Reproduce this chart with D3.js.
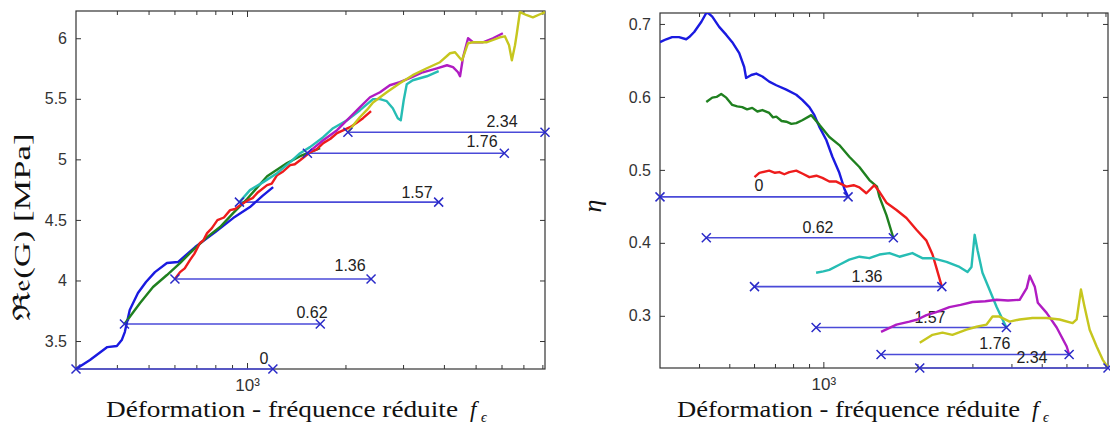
<!DOCTYPE html>
<html><head><meta charset="utf-8">
<script src="https://cdn.jsdelivr.net/npm/d3@7"></script>
<style>body{margin:0;background:#fff}svg{display:block}</style>
</head><body><svg id="c" width="1110" height="427"></svg>
<script>
// ---------- data ----------
const strains = ["0", "0.62", "1.36", "1.57", "1.76", "2.34"];
const fStart = [300, 422, 602, 948, 1530, 2035];
const fEnd = [1200, 1675, 2395, 3855, 6120, 8150];
const gLevel = [3.269, 3.64, 4.012, 4.647, 5.051, 5.224];
const etaLevel = [0.463, 0.407, 0.34, 0.284, 0.247, 0.2285];
const gLabelF = [1127, 1580, 2066, 3309, 5230, 6021];
const gLabelV = [3.36, 3.739, 4.127, 4.729, 5.15, 5.315];
const etaLabelF = [622, 961, 1379, 2194, 3542, 4653];
const etaLabelV = [0.4795, 0.4219, 0.3548, 0.2986, 0.263, 0.2438];

const gTicks = [3.5, 4, 4.5, 5, 5.5, 6];
const etaTicks = [0.3, 0.4, 0.5, 0.6, 0.7];
const xMajor = [1000];
const xMajorLabels = ["10³"];
const xMinor = [400, 500, 600, 700, 800, 900, 2000, 3000, 4000, 5000, 6000, 7000, 8000];
const xDomain = [300, 8150];
const gDomain = [3.269, 6.225];
const etaDomain = [0.2285, 0.715];

const gCurve0 = [[300,3.269],[331,3.343],[374,3.45],[400,3.459],[414,3.508],[423,3.574],[438,3.756],[464,3.896],[491,3.987],[523,4.069],[569,4.144],[615,4.152],[694,4.276],[800,4.4],[907,4.515],[1021,4.606],[1113,4.696],[1202,4.771]];
const gCurve062 = [[422,3.64],[471,3.814],[516,3.946],[569,4.045],[624,4.144],[684,4.251],[755,4.358],[827,4.441],[907,4.556],[1000,4.672],[1152,4.861],[1326,4.969],[1453,5.026],[1673,5.092]];
const gCurve136 = [[602,4.012],[624,4.069],[645,4.1],[669,4.168],[690,4.22],[718,4.309],[735,4.33],[755,4.391],[780,4.43],[812,4.498],[850,4.52],[888,4.581],[920,4.59],[953,4.622],[1007,4.663],[1040,4.68],[1081,4.729],[1152,4.787],[1190,4.8],[1236,4.87],[1290,4.9],[1355,4.952],[1400,4.96],[1453,4.993],[1558,5.059],[1630,5.08],[1710,5.134],[1800,5.17],[1885,5.216],[2066,5.266],[2160,5.3],[2263,5.34],[2395,5.398]];
const gCurve157 = [[948,4.647],[1021,4.746],[1121,4.812],[1236,4.886],[1355,4.977],[1453,5.051],[1558,5.101],[1710,5.183],[1833,5.257],[2022,5.323],[2216,5.406],[2428,5.497],[2551,5.497],[2675,5.48],[2791,5.422],[2891,5.34],[2952,5.323],[3014,5.488],[3079,5.62],[3212,5.653],[3547,5.686],[3855,5.728]];
const gCurve176 = [[1530,5.051],[1710,5.158],[1885,5.241],[2066,5.348],[2216,5.431],[2377,5.513],[2551,5.554],[2733,5.612],[2932,5.637],[3145,5.67],[3448,5.719],[3809,5.752],[4088,5.777],[4265,5.761],[4418,5.719],[4481,5.686],[4577,5.843],[4741,6.0],[4911,5.967],[5265,5.967],[5649,6.0],[6058,6.041]];
const gCurve234 = [[2035,5.224],[2140,5.3],[2216,5.35],[2330,5.41],[2428,5.47],[2675,5.554],[2932,5.629],[3212,5.695],[3547,5.752],[3891,5.802],[4176,5.876],[4326,5.884],[4481,5.835],[4545,5.818],[4741,5.959],[4911,5.967],[5416,5.967],[5932,6.008],[6144,6.016],[6327,5.942],[6454,5.818],[6598,5.942],[6685,6.041],[6828,6.215],[7173,6.19],[7483,6.173],[7866,6.198],[8150,6.215]];

const etaCurve0 = [[300,0.675],[314,0.679],[328,0.682],[345,0.682],[364,0.679],[372,0.682],[386,0.689],[407,0.703],[422,0.715],[428,0.715],[441,0.71],[464,0.696],[489,0.685],[511,0.675],[538,0.66],[558,0.641],[566,0.626],[588,0.63],[610,0.632],[638,0.628],[671,0.621],[707,0.616],[761,0.61],[819,0.603],[856,0.596],[902,0.586],[936,0.575],[971,0.559],[1022,0.541],[1069,0.518],[1125,0.496],[1170,0.473],[1200,0.463]];
const etaCurve062 = [[422,0.593],[441,0.599],[455,0.6],[471,0.604],[489,0.599],[511,0.589],[530,0.587],[550,0.586],[570,0.583],[592,0.585],[615,0.58],[638,0.582],[671,0.578],[690,0.572],[707,0.573],[735,0.567],[761,0.566],[790,0.563],[819,0.564],[856,0.568],[915,0.575],[971,0.562],[1045,0.545],[1125,0.534],[1211,0.518],[1304,0.504],[1404,0.486],[1485,0.477],[1512,0.463],[1592,0.438],[1675,0.407]];
const etaCurve136 = [[602,0.49],[624,0.496],[671,0.499],[700,0.496],[723,0.497],[750,0.494],[778,0.497],[819,0.499],[856,0.495],[902,0.49],[950,0.492],[993,0.489],[1045,0.484],[1101,0.484],[1185,0.477],[1250,0.479],[1304,0.476],[1373,0.468],[1457,0.479],[1512,0.47],[1592,0.455],[1714,0.445],[1845,0.434],[1986,0.418],[2138,0.403],[2236,0.384],[2300,0.366],[2395,0.34]];
const etaCurve157 = [[948,0.359],[1000,0.361],[1045,0.363],[1125,0.37],[1211,0.377],[1304,0.381],[1404,0.379],[1512,0.384],[1628,0.386],[1752,0.381],[1928,0.386],[2075,0.379],[2236,0.379],[2479,0.374],[2727,0.367],[2894,0.36],[2980,0.367],[3050,0.411],[3116,0.39],[3231,0.359],[3401,0.336],[3587,0.312],[3747,0.295],[3855,0.284]];
const etaCurve176 = [[1530,0.278],[1714,0.288],[1886,0.292],[2000,0.295],[2138,0.301],[2300,0.305],[2532,0.312],[2750,0.315],[3002,0.319],[3300,0.32],[3587,0.322],[3900,0.321],[4249,0.322],[4477,0.338],[4577,0.355],[4751,0.34],[4858,0.318],[5184,0.304],[5583,0.284],[6011,0.258],[6120,0.247]];
const etaCurve234 = [[2035,0.263],[2236,0.274],[2406,0.277],[2589,0.274],[2872,0.281],[3094,0.285],[3330,0.288],[3479,0.299],[3664,0.299],[3945,0.292],[4249,0.295],[4670,0.297],[5184,0.297],[5705,0.295],[6280,0.29],[6469,0.295],[6676,0.336],[6859,0.312],[7120,0.281],[7496,0.258],[7834,0.24],[8150,0.229]];

const gCurves = [gCurve0, gCurve062, gCurve136, gCurve157, gCurve176, gCurve234];
const etaCurves = [etaCurve0, etaCurve062, etaCurve136, etaCurve157, etaCurve176, etaCurve234];

// ---------- style ----------
const curveColors = ["#1a1ae0", "#1f801f", "#ee1c1c", "#26bdb4", "#b01cc2", "#c6c61e"];
const refLineColor = "#4a4ad8";
const markColor = "#2a2ac8";
const sansFont = "'Liberation Sans', Arial, Helvetica, sans-serif";
const serifFont = "'Liberation Serif', 'Times New Roman', 'DejaVu Serif', serif";

const svg = d3.select("#c");
svg.append("rect").attr("width", 1110).attr("height", 427).attr("fill", "#fff");

function xMark(sel) {
  sel.attr("d", () => { const p = d3.path(); const s = 4.5; p.moveTo(-s, -s); p.lineTo(s, s); p.moveTo(-s, s); p.lineTo(s, -s); return p.toString(); })
     .attr("fill", "none").attr("stroke", markColor).attr("stroke-width", 1.5);
}

function panel(opt) {
  const {x0, x1, y0, y1, yDomain, yTicks, yFmt, levels, labelF, labelV, curves, id} = opt;
  const x = d3.scaleLog().domain(xDomain).range([x0, x1]);
  const y = d3.scaleLinear().domain(yDomain).range([y1, y0]);
  const g = svg.append("g");

  g.append("clipPath").attr("id", id).append("rect")
    .attr("x", x0).attr("y", y0).attr("width", x1 - x0).attr("height", y1 - y0);

  // axes (inward ticks)
  const styleAxis = a => { a.attr("font-size", 16).attr("font-family", sansFont); a.select(".domain").remove(); a.selectAll(".tick line").attr("stroke", "#333"); a.selectAll("text").attr("fill", "#333").attr("font-family", sansFont).attr("font-size", 16); };
  g.append("g").attr("transform", `translate(${x0},0)`).call(d3.axisLeft(y).tickValues(yTicks).tickSize(-5).tickPadding(9).tickFormat(yFmt)).call(styleAxis);
  g.append("g").attr("transform", `translate(${x1},0)`).call(d3.axisRight(y).tickValues(yTicks).tickSize(-5).tickFormat("")).call(styleAxis);
  g.append("g").attr("transform", `translate(0,${y1})`).call(d3.axisBottom(x).tickValues(xMinor).tickSize(-4).tickFormat("")).call(styleAxis);
  g.append("g").attr("transform", `translate(0,${y0})`).call(d3.axisTop(x).tickValues(xMinor).tickSize(-4).tickFormat("")).call(styleAxis);
  g.append("g").attr("transform", `translate(0,${y0})`).call(d3.axisTop(x).tickValues(xMajor).tickSize(-6).tickFormat("")).call(styleAxis);
  const bx = g.append("g").attr("transform", `translate(0,${y1})`)
    .call(d3.axisBottom(x).tickValues(xMajor).tickSize(-6).tickPadding(10).tickFormat((d, i) => xMajorLabels[i]))
    .call(styleAxis);
  bx.selectAll(".tick text").attr("font-size", 17);

  g.append("rect").attr("x", x0).attr("y", y0).attr("width", x1 - x0).attr("height", y1 - y0)
    .attr("fill", "none").attr("stroke", "#333").attr("stroke-width", 1.2);

  // reference lines and labels
  strains.forEach((s, i) => {
    g.append("line").attr("x1", x(fStart[i])).attr("x2", x(fEnd[i])).attr("y1", y(levels[i])).attr("y2", y(levels[i]))
      .attr("stroke", refLineColor).attr("stroke-width", 1.6);
    g.append("text").attr("x", x(labelF[i])).attr("y", y(labelV[i])).attr("dy", "0.36em")
      .attr("text-anchor", "middle").attr("font-family", sansFont).attr("font-size", 16).attr("fill", "#222").text(s);
  });

  // curves
  const line = d3.line().x(d => x(d[0])).y(d => y(d[1]));
  const cg = g.append("g").attr("clip-path", `url(#${id})`);
  curves.forEach((c, i) => {
    cg.append("path").attr("d", line(c)).attr("fill", "none").attr("stroke", curveColors[i])
      .attr("stroke-width", 2.4).attr("stroke-linejoin", "round");
  });

  // end markers
  strains.forEach((s, i) => {
    [fStart[i], fEnd[i]].forEach(f => {
      g.append("path").attr("transform", `translate(${x(f)},${y(levels[i])})`).call(xMark);
    });
  });
  return {x, y};
}

panel({id: "clipL", x0: 76, x1: 545, y0: 11, y1: 369, yDomain: gDomain, yTicks: gTicks, yFmt: d3.format("~g"),
  levels: gLevel, labelF: gLabelF, labelV: gLabelV, curves: gCurves});
panel({id: "clipR", x0: 660, x1: 1108, y0: 13, y1: 368, yDomain: etaDomain, yTicks: etaTicks, yFmt: d3.format(".1f"),
  levels: etaLevel, labelF: etaLabelF, labelV: etaLabelV, curves: etaCurves});

// axis titles
function xTitle(x0, mainLen) {
  svg.append("text").attr("x", x0).attr("y", 417).attr("font-family", serifFont).attr("font-size", 23).attr("fill", "#111")
    .attr("textLength", mainLen).attr("lengthAdjust", "spacingAndGlyphs").text("Déformation - fréquence réduite");
  svg.append("text").attr("x", x0 + mainLen + 12).attr("y", 417).attr("font-family", serifFont).attr("font-size", 23)
    .attr("font-style", "italic").attr("fill", "#111").text("f");
  svg.append("text").attr("x", x0 + mainLen + 23).attr("y", 422).attr("font-family", serifFont).attr("font-size", 14)
    .attr("font-style", "italic").attr("fill", "#111").text("ϵ");
}
xTitle(106, 352);
xTitle(677, 343);

svg.append("text").attr("transform", "translate(30,227) rotate(-90)").attr("text-anchor", "middle")
  .attr("font-family", serifFont).attr("font-size", 24).attr("fill", "#111")
  .attr("textLength", 187).attr("lengthAdjust", "spacingAndGlyphs").text("ℜ𝔢(G) [MPa]");
svg.append("text").attr("transform", "translate(601,206) rotate(-90)").attr("text-anchor", "middle")
  .attr("font-family", serifFont).attr("font-size", 26).attr("font-style", "italic").attr("fill", "#111").text("η");
</script></body></html>
